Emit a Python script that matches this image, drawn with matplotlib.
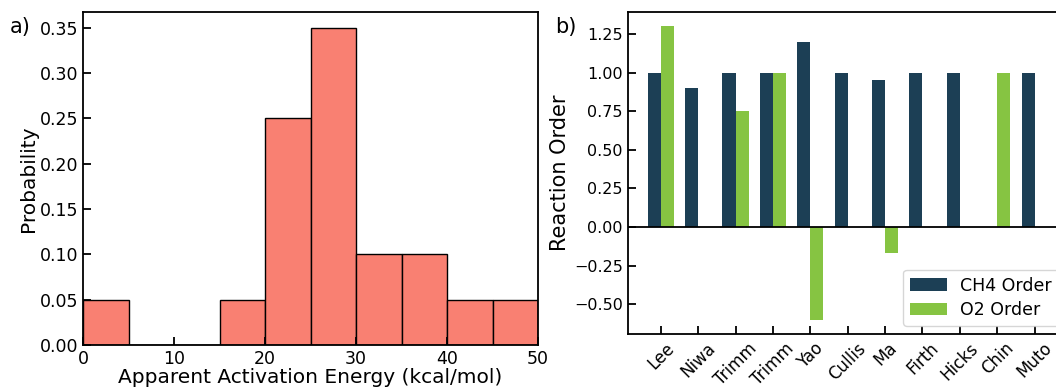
import numpy as np
import matplotlib
matplotlib.use('Agg')
import matplotlib.pyplot as plt

plt.rcParams['font.family'] = ['DejaVu Sans']

# 活化能分布（直方图）
bin_edges = [0, 5, 10, 15, 20, 25, 30, 35, 40, 45, 50]
probability = [0.05, 0.0, 0.0, 0.05, 0.25, 0.35, 0.10, 0.10, 0.05, 0.05]

# 反应级数
authors = ['Lee', 'Niwa', 'Trimm', 'Trimm', 'Yao', 'Cullis', 'Ma', 'Firth', 'Hicks', 'Chin', 'Muto']
ch4_order = [1.0, 0.9, 1.0, 1.0, 1.2, 1.0, 0.95, 1.0, 1.0, 0.0, 1.0]
o2_order = [1.3, 0.0, 0.75, 1.0, -0.6, 0.0, -0.17, 0.0, 0.0, 1.0, 0.0]

if __name__ == '__main__':
    fig = plt.figure(figsize=(10.56, 3.91), dpi=100)
    ax1 = fig.add_axes([0.0786, 0.1176, 0.4309, 0.8524])
    ax2 = fig.add_axes([0.5944, 0.145, 0.4167, 0.825])

    # a) 直方图
    centers = (np.array(bin_edges[:-1]) + np.array(bin_edges[1:])) / 2
    ax1.hist(centers, bins=bin_edges, weights=probability,
             color='#F98072', edgecolor='black', linewidth=1.0)
    ax1.set_xlim(0, 50)
    ax1.set_ylim(0, 0.3675)
    ax1.set_yticks(np.arange(0, 0.36, 0.05))
    ax1.set_xlabel('Apparent Activation Energy (kcal/mol)', fontsize=14.5, labelpad=0)
    ax1.set_ylabel('Probability', fontsize=14.5, labelpad=1)
    ax1.tick_params(labelsize=12.5)

    # b) 柱状图
    x = np.arange(len(authors))
    w = 0.35
    ax2.bar(x, ch4_order, width=-w, align='edge', color='#1C3F55', label='CH4 Order')
    ax2.bar(x, o2_order, width=w, align='edge', color='#86C442', label='O2 Order')
    ax2.axhline(0, color='black', linewidth=1.3)
    ax2.set_xticks(x)
    ax2.set_xticklabels(authors, rotation=45)
    ax2.set_yticks([-0.5, -0.25, 0, 0.25, 0.5, 0.75, 1.0, 1.25])
    ax2.set_ylabel('Reaction Order', fontsize=15, labelpad=3)
    ax2.tick_params(axis='y', labelsize=11.5)
    ax2.tick_params(axis='x', labelsize=12)
    ax2.legend(loc='lower right', fontsize=12.5, handlelength=2.1, labelspacing=0.35)

    for ax in (ax1, ax2):
        ax.tick_params(direction='in', length=6, width=1.3)
        for s in ax.spines.values():
            s.set_linewidth(1.3)

    fig.text(0.0095, 0.93, 'a)', fontsize=15, va='center')
    fig.text(0.5256, 0.93, 'b)', fontsize=15, va='center')

    fig.savefig('out.png', dpi=100)
